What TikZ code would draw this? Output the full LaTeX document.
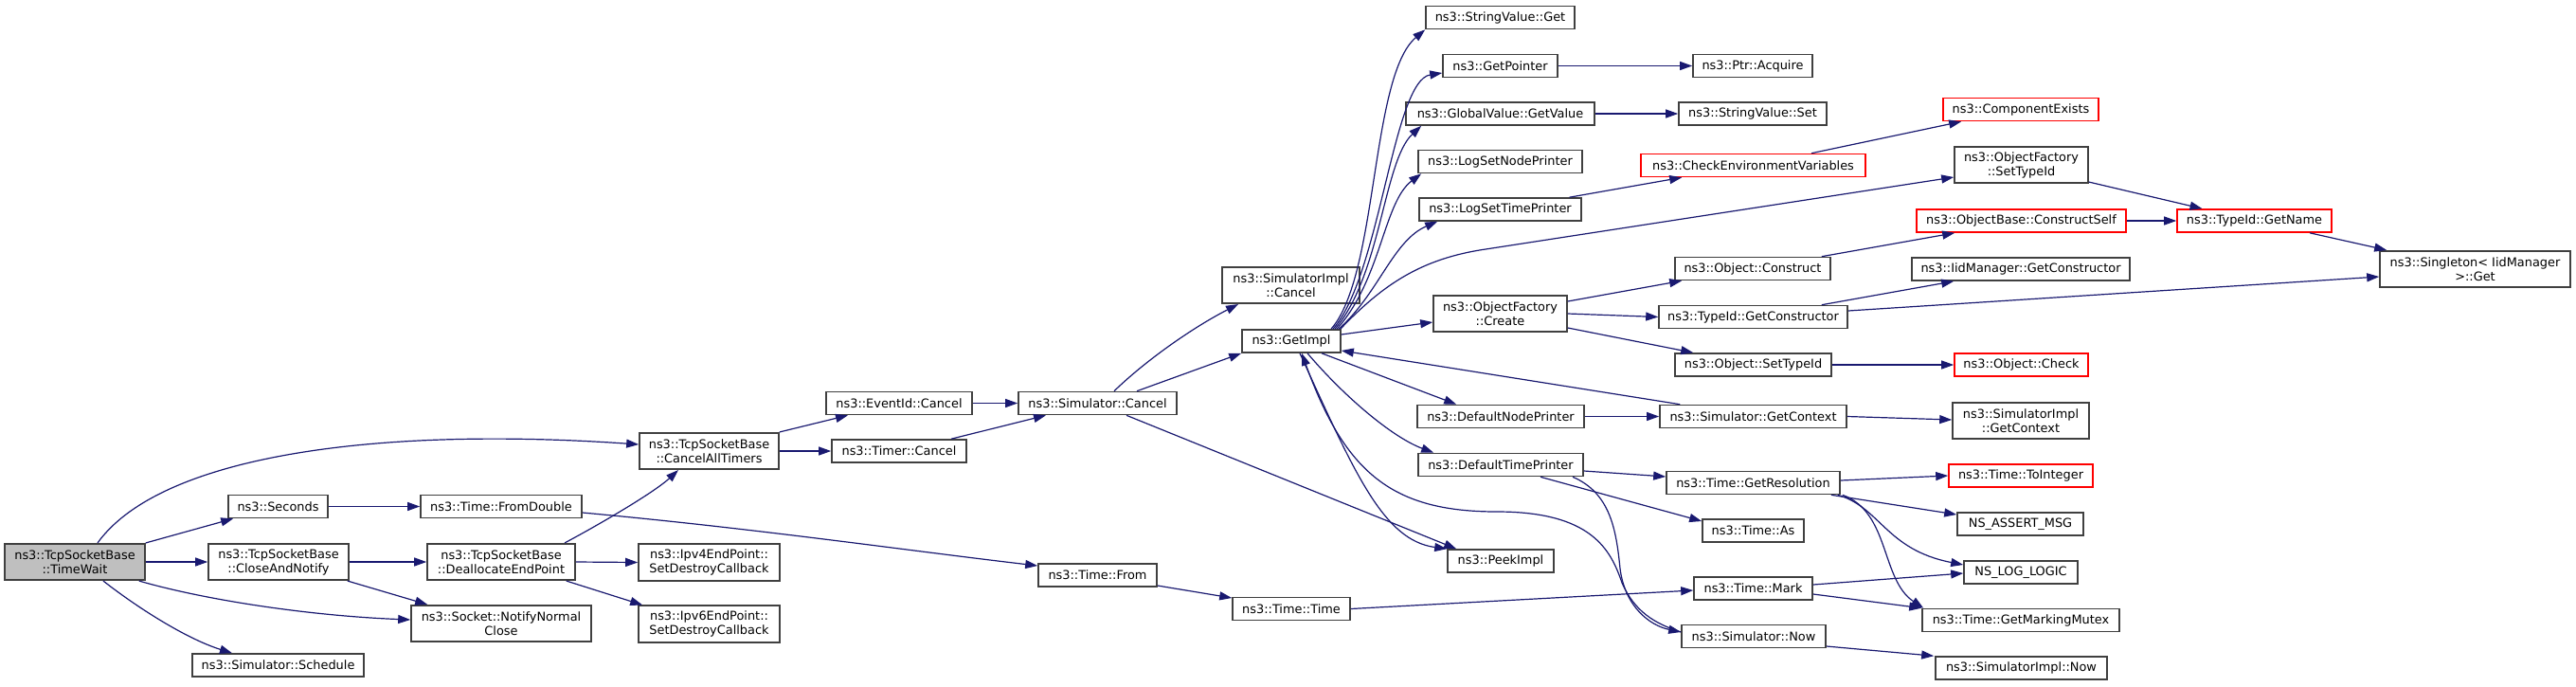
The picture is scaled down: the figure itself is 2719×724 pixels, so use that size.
\documentclass[tikz,border=0pt]{standalone}
\usepackage{fontspec}
\setmainfont{DejaVu Sans}
\usetikzlibrary{arrows.meta}
\definecolor{edgeblue}{HTML}{191970}
\definecolor{boxgray}{HTML}{404040}
\definecolor{curfill}{HTML}{BFBFBF}
\begin{document}
\begin{tikzpicture}[x=1pt,y=-1pt,
    fn/.style={draw=boxgray, line width=1.6pt, fill=white, inner xsep=3pt, inner ysep=2pt,
        minimum height=24pt, align=center, font=\fontsize{12.9pt}{15pt}\selectfont},
    fntwo/.style={fn, minimum height=38.5pt},
    fnred/.style={fn, draw=red},
    fncur/.style={fntwo, fill=curfill},
    call/.style={draw=edgeblue, line width=1.2pt, -{Triangle[length=13pt,width=9pt]}}
]
\useasboundingbox (0,0) rectangle (2719,724);

\node[fncur, minimum width=148pt] (tw) at (79,593) {ns3::TcpSocketBase\\::TimeWait};
\node[fn, minimum width=105pt] (sec) at (293.5,534.5) {ns3::Seconds};
\node[fntwo, minimum width=148pt] (can) at (294,593) {ns3::TcpSocketBase\\::CloseAndNotify};
\node[fn, minimum width=181pt] (sch) at (293.5,702) {ns3::Simulator::Schedule};
\node[fn, minimum width=170pt] (fdb) at (529,534.5) {ns3::Time::FromDouble};
\node[fntwo, minimum width=156pt] (dep) at (529,593) {ns3::TcpSocketBase\\::DeallocateEndPoint};
\node[fntwo, minimum width=190pt] (nnc) at (529,658) {ns3::Socket::NotifyNormal\\Close};
\node[fntwo, minimum width=147pt] (cat) at (748.5,476) {ns3::TcpSocketBase\\::CancelAllTimers};
\node[fntwo, minimum width=149pt] (ip4) at (748.5,593.5) {ns3::Ipv4EndPoint::\\SetDestroyCallback};
\node[fntwo, minimum width=149pt] (ip6) at (748.5,658.5) {ns3::Ipv6EndPoint::\\SetDestroyCallback};
\node[fn, minimum width=154pt] (eic) at (949,425.5) {ns3::EventId::Cancel};
\node[fn, minimum width=142pt] (tmc) at (949,476) {ns3::Timer::Cancel};
\node[fn, minimum width=167pt] (smc) at (1158.5,425.5) {ns3::Simulator::Cancel};
\node[fn, minimum width=125pt] (tfr) at (1158.5,607) {ns3::Time::From};
\node[fntwo, minimum width=145pt] (sic) at (1362.5,301) {ns3::SimulatorImpl\\::Cancel};
\node[fn, minimum width=104pt] (gim) at (1363,360) {ns3::GetImpl};
\node[fn, minimum width=124pt] (ttm) at (1363,642.5) {ns3::Time::Time};
\node[fn, minimum width=157pt] (svg) at (1583.5,18.5) {ns3::StringValue::Get};
\node[fn, minimum width=121pt] (gpt) at (1583.5,69.5) {ns3::GetPointer};
\node[fn, minimum width=199pt] (gvv) at (1583.5,120) {ns3::GlobalValue::GetValue};
\node[fn, minimum width=173pt] (lnp) at (1583.5,170.5) {ns3::LogSetNodePrinter};
\node[fn, minimum width=171pt] (ltp) at (1583.5,221) {ns3::LogSetTimePrinter};
\node[fntwo, minimum width=141pt] (ofc) at (1583.5,331) {ns3::ObjectFactory\\::Create};
\node[fn, minimum width=176pt] (dnp) at (1584,439.5) {ns3::DefaultNodePrinter};
\node[fn, minimum width=174pt] (dtp) at (1584,490.5) {ns3::DefaultTimePrinter};
\node[fn, minimum width=112pt] (pki) at (1584,592) {ns3::PeekImpl};
\node[fn, minimum width=126pt] (pac) at (1850,69.5) {ns3::Ptr::Acquire};
\node[fn, minimum width=156pt] (svs) at (1850,120) {ns3::StringValue::Set};
\node[fnred, minimum width=237pt] (cev) at (1850.5,174.5) {ns3::CheckEnvironmentVariables};
\node[fn, minimum width=164pt] (ocn) at (1850,283.5) {ns3::Object::Construct};
\node[fn, minimum width=199pt] (tgc) at (1850.5,334.5) {ns3::TypeId::GetConstructor};
\node[fn, minimum width=165pt] (ost) at (1850.5,385) {ns3::Object::SetTypeId};
\node[fn, minimum width=197pt] (sgc) at (1850.5,439.5) {ns3::Simulator::GetContext};
\node[fn, minimum width=183pt] (tgr) at (1850.5,509.5) {ns3::Time::GetResolution};
\node[fn, minimum width=107pt] (tas) at (1850.5,560) {ns3::Time::As};
\node[fn, minimum width=125pt] (tmk) at (1850.5,621) {ns3::Time::Mark};
\node[fn, minimum width=152pt] (snw) at (1851,671.5) {ns3::Simulator::Now};
\node[fnred, minimum width=164pt] (cex) at (2133,115.5) {ns3::ComponentExists};
\node[fntwo, minimum width=141pt] (ost2) at (2133.5,174) {ns3::ObjectFactory\\::SetTypeId};
\node[fnred, minimum width=221pt] (obc) at (2133.5,233) {ns3::ObjectBase::ConstructSelf};
\node[fn, minimum width=230pt] (igc) at (2133,284) {ns3::IidManager::GetConstructor};
\node[fnred, minimum width=141pt] (och) at (2133.5,385) {ns3::Object::Check};
\node[fntwo, minimum width=144pt] (sig) at (2133,444) {ns3::SimulatorImpl\\::GetContext};
\node[fnred, minimum width=152pt] (tti) at (2133,502) {ns3::Time::ToInteger};
\node[fn, minimum width=133pt] (nam) at (2132.5,553) {NS\_ASSERT\_MSG};
\node[fn, minimum width=120pt] (nll) at (2133,604) {NS\_LOG\_LOGIC};
\node[fn, minimum width=208pt] (tgm) at (2133,654.5) {ns3::Time::GetMarkingMutex};
\node[fn, minimum width=181pt] (sin) at (2133.5,705) {ns3::SimulatorImpl::Now};
\node[fnred, minimum width=163pt] (tgn) at (2379.5,233) {ns3::TypeId::GetName};
\node[fntwo, minimum width=201pt] (sgl) at (2612.5,284) {ns3::Singleton< IidManager\\>::Get};

\draw[call] ([xshift=24pt]tw.north) .. controls +(67,-93) and +(-274,-19) .. ([yshift=7pt]cat.west);
\draw[call] (tw.north east) -- ([xshift=6pt]sec.south west);
\draw[call] (tw.east) -- (can.west);
\draw[call] ([xshift=-7pt]tw.south east) .. controls +(73,21) and +(-103,-4) .. ([yshift=4pt]nnc.west);
\draw[call] ([xshift=30pt]tw.south) .. controls +(41,32) and +(-45,-14) .. ([xshift=-48.5pt]sch.north);
\draw[call] (sec.east) -- (fdb.west);
\draw[call] (can.east) -- (dep.west);
\draw[call] ([xshift=-2pt]can.south east) -- ([xshift=18pt]nnc.north west);
\draw[call] ([xshift=67pt]dep.north) .. controls +(34,-18) and +(-26,24) .. ([xshift=-32.5pt]cat.south);
\draw[call] (dep.east) -- (ip4.west);
\draw[call] ([xshift=-10pt]dep.south east) -- ([xshift=5pt]ip6.north west);
\draw[call] ([yshift=-6.5pt]fdb.east) .. controls +(185,17) and +(-145,-17) .. ([yshift=10pt]tfr.west);
\draw[call] (cat.north east) -- ([xshift=-54pt]eic.south);
\draw[call] (cat.east) -- (tmc.west);
\draw[call] (eic.east) -- (smc.west);
\draw[call] ([xshift=55pt]tmc.north) -- ([xshift=-54.5pt]smc.south);
\draw[call] ([xshift=17.5pt]smc.north) .. controls +(34,-33) and +(-47,24) .. ([xshift=-55.5pt]sic.south);
\draw[call] ([xshift=41.5pt]smc.north) -- (gim.south west);
\draw[call] ([xshift=30.5pt]smc.south) -- ([xshift=10pt]pki.north west);
\draw[call] ([yshift=-11pt]tfr.east) -- ([yshift=11.5pt]ttm.west);
\draw[call] (ttm.east) -- ([yshift=-2pt]tmk.west);

\draw[call] ([xshift=42pt]gim.north) .. controls +(50,-57) and +(-58,49) .. (svg.south west);
\draw[call] ([xshift=44pt]gim.north) .. controls +(50,-57) and +(-52,8) .. ([yshift=-7.5pt]gpt.west);
\draw[call] ([xshift=46pt]gim.north) .. controls +(49,-57) and +(-40,37) .. ([xshift=17pt]gvv.south west);
\draw[call] ([xshift=48pt]gim.north) .. controls +(47,-52) and +(-40,30) .. ([xshift=4pt]lnp.south west);
\draw[call] ([xshift=50pt]gim.north) .. controls +(42,-37) and +(-47,20) .. ([xshift=20pt]ltp.south west);
\draw[call] ([xshift=-1pt]gim.north east) .. controls +(45,-47) and +(-68,10) .. (1568,263) -- ([yshift=-13pt]ost2.west);
\draw[call] ([yshift=7pt]gim.east) -- ([yshift=-9pt]ofc.west);
\draw[call] ([xshift=32pt]gim.south) -- ([xshift=42pt]dnp.north west);
\draw[call] ([xshift=17pt]gim.south) .. controls +(40,47) and +(-43,-16) .. ([xshift=17pt]dtp.north west);
\draw[call] ([xshift=9pt]gim.south) .. controls +(58,127) and +(-67,-9) .. (pki.north west);
\draw[call] ([yshift=4.5pt]snw.west) .. controls +(-28,-9) and +(13,30) .. (1712,615)
    .. controls +(-12,-35) and +(100,0) .. (1580,540)
    .. controls +(-110,0) and +(46,127) .. ([xshift=11pt]gim.south);
\draw[call] ([xshift=76pt]dtp.south) .. controls +(40,17) and +(-4,-40) .. (1710,600)
    .. controls +(5,40) and +(-33,-7) .. ([yshift=4.5pt]snw.west);
\draw[call] ([yshift=-6.5pt]dtp.east) -- ([yshift=6.5pt]tgr.west);
\draw[call] ([xshift=42pt]dtp.south) -- ([yshift=10pt]tas.west);
\draw[call] ([xshift=22pt]sgc.north west) -- ([yshift=-10pt]gim.east);
\draw[call] (dnp.east) -- (sgc.west);
\draw[call] (sgc.east) -- ([yshift=1pt]sig.west);
\draw[call] ([xshift=73pt]ltp.north) -- ([xshift=44pt]cev.south west);
\draw[call] ([xshift=61.5pt]cev.north) -- ([xshift=20pt]cex.south west);
\draw[call] (gpt.east) -- (pac.west);
\draw[call] (gvv.east) -- (svs.west);
\draw[call] ([yshift=13pt]ofc.east) -- ([xshift=8pt]ocn.south west);
\draw[call] (ofc.east) -- (tgc.west);
\draw[call] ([yshift=-15pt]ofc.east) -- ([xshift=20pt]ost.north west);
\draw[call] ([xshift=-10pt]ocn.north east) -- ([xshift=41pt]obc.south west);
\draw[call] ([xshift=-28pt]tgc.north east) -- ([xshift=45pt]igc.south west);
\draw[call] ([yshift=6.5pt]tgc.east) -- ([yshift=-8pt]sgl.west);
\draw[call] (ost.east) -- (och.west);
\draw[call] ([yshift=2pt]ost2.south east) -- ([xshift=-55pt]tgn.north);
\draw[call] (obc.east) -- (tgn.west);
\draw[call] ([xshift=58.5pt]tgn.south) -- ([xshift=8pt]sgl.north west);
\draw[call] ([yshift=2.5pt]tgr.east) -- (tti.west);
\draw[call] ([xshift=-10pt]tgr.south east) -- ([yshift=10pt]nam.west);
\draw[call] ([xshift=-3pt]tgr.south east) .. controls +(45,13) and +(-82,-16) .. ([yshift=8pt]nll.west);
\draw[call] ([xshift=2pt]tgr.south east) .. controls +(50,18) and +(-45,-30) .. ([xshift=2pt]tgm.north west);
\draw[call] ([yshift=4pt]tmk.east) -- ([yshift=-1pt]nll.west);
\draw[call] ([yshift=-6pt]tmk.east) -- (tgm.north west);
\draw[call] ([yshift=-10.5pt]snw.east) -- ([xshift=-1pt]sin.north west);
\end{tikzpicture}
\end{document}
